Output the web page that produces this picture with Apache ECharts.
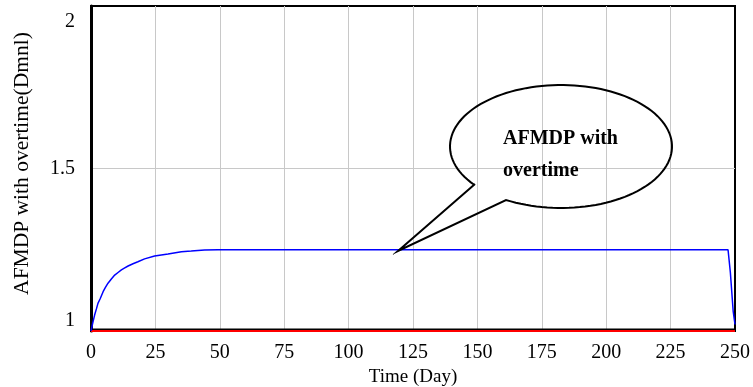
<!DOCTYPE html>
<html>
<head>
<meta charset="utf-8">
<script src="https://cdn.jsdelivr.net/npm/echarts@6/dist/echarts.min.js"></script>
<style>html,body{margin:0;padding:0;background:#fff;}#c{width:753px;height:387px;}</style>
</head>
<body>
<div id="c"></div>
<script>
var timeBlue = [0, 0.5, 0.8, 1.4, 2.1, 2.7, 3.6, 4.7, 5.6, 6.6, 7.9, 9.2, 10.5, 11.8, 13.1, 14.4, 16.3, 18.2, 20.8, 24.7, 27.3, 29.9, 35.1, 38.9, 44.1, 49.3, 120, 247.3, 248.2, 249.3, 250];
var valueBlue = [1.0, 1.018, 1.029, 1.049, 1.068, 1.085, 1.1, 1.121, 1.134, 1.147, 1.16, 1.172, 1.18, 1.188, 1.194, 1.2, 1.207, 1.213, 1.222, 1.231, 1.234, 1.237, 1.244, 1.246, 1.249, 1.25, 1.25, 1.25, 1.18, 1.06, 1.02];
var timeRed = [0, 250];
var valueRed = [1, 1];
var xTicks = [0, 25, 50, 75, 100, 125, 150, 175, 200, 225, 250];
var yTicks = [1, 1.5, 2];
var calloutText = ['AFMDP with', 'overtime'];

function pairs(xs, ys) { return xs.map(function (x, i) { return [x, ys[i]]; }); }

// speech-bubble outline (decoration): ellipse arc + tail
function bubblePoints() {
  var cx = 561, cy = 146.5, rx = 111, ry = 61.5;
  var a0 = 119.67, a1 = 141.8 - 360;
  var pts = [[475, 184], [398, 251], [506, 200]];
  var n = 120;
  for (var i = 1; i <= n; i++) {
    var a = (a0 + (a1 - a0) * i / n) * Math.PI / 180;
    pts.push([cx + rx * Math.cos(a), cy + ry * Math.sin(a)]);
  }
  return pts;
}

var chart = echarts.init(document.getElementById('c'));
var serif = '"Liberation Serif", "Times New Roman", serif';
chart.setOption({
  animation: false,
  backgroundColor: '#fff',
  grid: { left: 91, right: 18, top: 6, bottom: 56, show: true, borderColor: '#000', borderWidth: 2, outerBoundsMode: 'none', containLabel: false },
  xAxis: {
    type: 'value', min: xTicks[0], max: xTicks[xTicks.length - 1], interval: 25,
    name: 'Time (Day)', nameLocation: 'middle', nameGap: 36,
    nameTextStyle: { fontFamily: serif, fontSize: 19, color: '#000' },
    axisLine: { show: true, onZero: false, lineStyle: { color: '#000', width: 2 } },
    axisTick: { show: false },
    axisLabel: { fontFamily: serif, fontSize: 20, color: '#000', margin: 12 },
    splitLine: { show: true, showMinLine: false, showMaxLine: false, lineStyle: { color: '#c8c8c8', width: 1 } }
  },
  yAxis: {
    type: 'value', min: yTicks[0], max: yTicks[yTicks.length - 1], interval: 0.5,
    name: 'AFMDP with overtime(Dmnl)', nameLocation: 'middle', nameGap: 58,
    nameTextStyle: { fontFamily: serif, fontSize: 21.5, color: '#000', padding: [0, 0, 0, 10] },
    axisLine: { show: true, lineStyle: { color: '#000', width: 3 } },
    axisTick: { show: false },
    axisLabel: {
      margin: 16,
      formatter: function (v) {
        if (v === yTicks[yTicks.length - 1]) return '{t|' + v + '}';
        if (v === yTicks[0]) return '{b|' + v + '}';
        return '{m|' + v + '}';
      },
      rich: {
        t: { fontFamily: serif, fontSize: 20, color: '#000', padding: [31, 0, 0, 0] },
        b: { fontFamily: serif, fontSize: 20, color: '#000', padding: [0, 0, 21, 0] },
        m: { fontFamily: serif, fontSize: 20, color: '#000' }
      }
    },
    splitLine: { show: true, showMinLine: false, showMaxLine: false, lineStyle: { color: '#c8c8c8', width: 1 } }
  },
  series: [
    {
      type: 'line', data: pairs(timeRed, valueRed), showSymbol: false, symbol: 'none',
      lineStyle: { color: '#ff0000', width: 2, shadowColor: '#000', shadowBlur: 0, shadowOffsetY: -1.5 }, z: 1
    },
    {
      type: 'line', data: pairs(timeBlue, valueBlue), showSymbol: false, symbol: 'none',
      lineStyle: { color: '#0000ff', width: 1.5 }, z: 3
    }
  ],
  graphic: [
    {
      type: 'polyline', silent: true, z: 10,
      shape: { points: bubblePoints() },
      style: { stroke: '#000', lineWidth: 2, fill: null }
    },
    {
      type: 'text', left: 503, top: 123, silent: true, z: 11,
      style: { text: calloutText.join('\n'), font: 'bold 20px ' + serif, fill: '#000', lineHeight: 32 }
    }
  ]
});
</script>
</body>
</html>
